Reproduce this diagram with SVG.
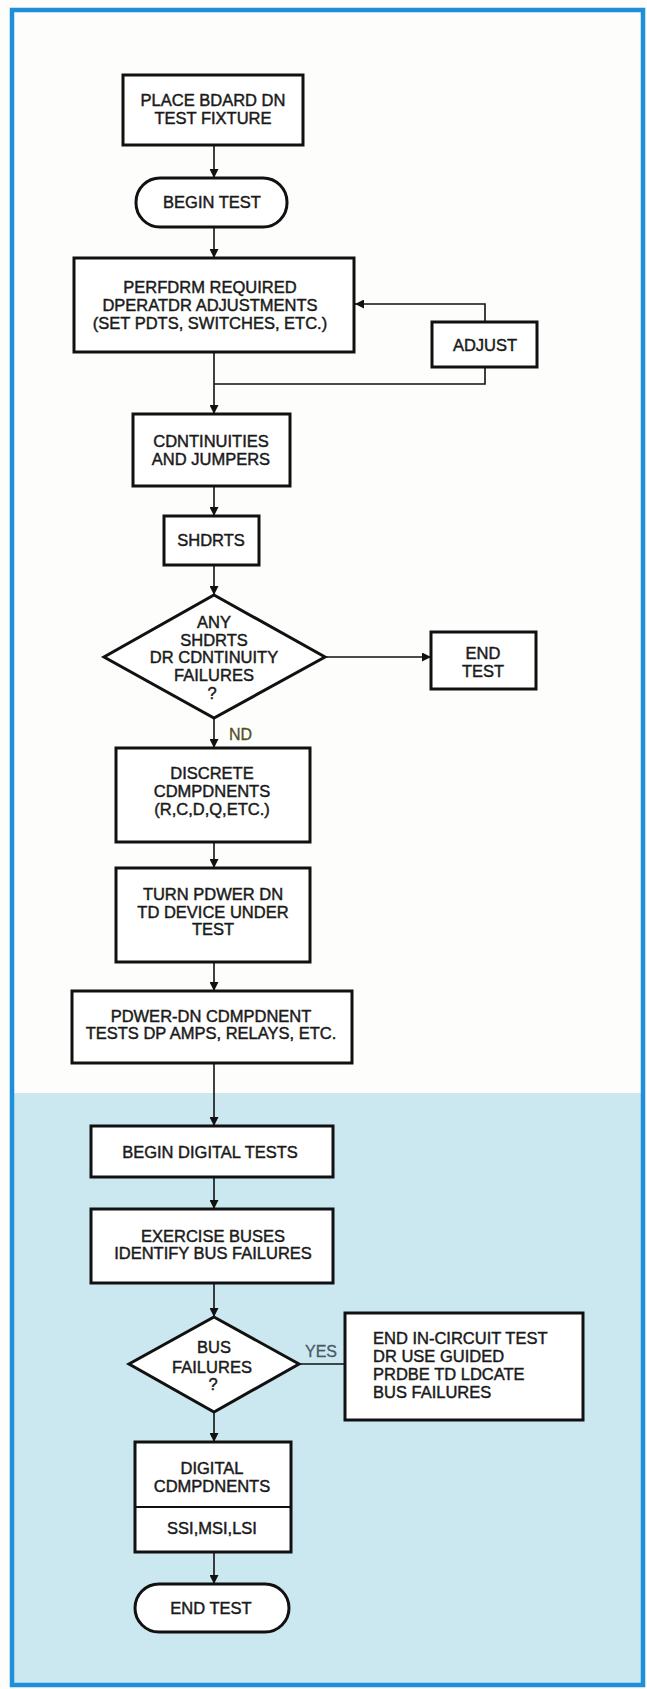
<svg xmlns="http://www.w3.org/2000/svg" width="647" height="1689" viewBox="0 0 647 1689">
<defs>
<marker id="ah" viewBox="0 0 10 10" refX="10" refY="5" markerWidth="9" markerHeight="9" markerUnits="userSpaceOnUse" orient="auto">
<path d="M0,0 L10,5 L0,10 z" fill="#111"/>
</marker>
<style>
.box{fill:#fff;stroke:#111;stroke-width:3}
.t{font-family:"Liberation Sans",Arial,sans-serif;font-size:16.5px;fill:#1a1a1a;stroke:#1a1a1a;stroke-width:0.45;text-anchor:middle}
.tl{text-anchor:start}
.c{fill:none;stroke:#111;stroke-width:1.6}
.ca{fill:none;stroke:#111;stroke-width:1.6;marker-end:url(#ah)}
.lbl{font-family:"Liberation Sans",Arial,sans-serif;font-size:16px;stroke-width:0.3}
</style>
</defs>
<rect x="0" y="0" width="647" height="1689" fill="#fdfdfb"/>
<rect x="12" y="10" width="631" height="1083" fill="#fdfdfb"/>
<rect x="12" y="1093" width="631" height="593" fill="#cbe8f0"/>
<rect x="12" y="10" width="631" height="1675" fill="none" stroke="#1d8fdb" stroke-width="4.5"/>

<g id="connectors">
<line class="ca" x1="214" y1="145" x2="214" y2="178"/>
<line class="ca" x1="214" y1="227" x2="214" y2="258"/>
<line class="ca" x1="214" y1="352" x2="214" y2="414"/>
<polyline class="ca" points="485,322 485,304 355,304"/>
<polyline class="c" points="485,367 485,384 214,384"/>
<line class="ca" x1="214" y1="486" x2="214" y2="516"/>
<line class="ca" x1="214" y1="565" x2="214" y2="595"/>
<line class="ca" x1="325" y1="657" x2="431" y2="657"/>
<line class="ca" x1="214" y1="718" x2="214" y2="748"/>
<line class="ca" x1="214" y1="842" x2="214" y2="868"/>
<line class="ca" x1="214" y1="962" x2="214" y2="991"/>
<line class="ca" x1="214" y1="1063" x2="214" y2="1126"/>
<line class="ca" x1="214" y1="1177" x2="214" y2="1209"/>
<line class="ca" x1="214" y1="1283" x2="214" y2="1317"/>
<line class="c" x1="299" y1="1364" x2="345" y2="1364"/>
<line class="ca" x1="214" y1="1412" x2="214" y2="1442"/>
<line class="ca" x1="214" y1="1552" x2="214" y2="1584"/>
<text class="lbl" x="229" y="740" fill="#4f4f22" stroke="#4f4f22">ND</text>
<text class="lbl" x="305" y="1357" fill="#4a5866" stroke="#4a5866">YES</text>
</g>

<g id="place-board">
<rect class="box" x="123" y="75" width="180" height="70"/>
<text class="t" x="213" y="106">PLACE BDARD DN</text>
<text class="t" x="213" y="124">TEST FIXTURE</text>
</g>
<g id="begin-test">
<rect class="box" x="136" y="178" width="151" height="49" rx="24" ry="24"/>
<text class="t" x="212" y="208">BEGIN TEST</text>
</g>
<g id="perform">
<rect class="box" x="74" y="258" width="280" height="94"/>
<text class="t" x="210" y="293">PERFDRM REQUIRED</text>
<text class="t" x="210" y="311">DPERATDR ADJUSTMENTS</text>
<text class="t" x="210" y="329">(SET PDTS, SWITCHES, ETC.)</text>
</g>
<g id="adjust">
<rect class="box" x="432" y="322" width="105" height="45"/>
<text class="t" x="485" y="351">ADJUST</text>
</g>
<g id="continuities">
<rect class="box" x="133" y="414" width="157" height="72"/>
<text class="t" x="211" y="447">CDNTINUITIES</text>
<text class="t" x="211" y="465">AND JUMPERS</text>
</g>
<g id="shorts">
<rect class="box" x="164" y="516" width="95" height="49"/>
<text class="t" x="211" y="546">SHDRTS</text>
</g>
<g id="shorts-decision">
<polygon class="box" points="214,595 325,657 214,718 104,657"/>
<text class="t" x="214" y="628">ANY</text>
<text class="t" x="214" y="646">SHDRTS</text>
<text class="t" x="214" y="663">DR CDNTINUITY</text>
<text class="t" x="214" y="681">FAILURES</text>
<text class="t" x="212" y="699">?</text>
</g>
<g id="end-test-1">
<rect class="box" x="431" y="632" width="105" height="57"/>
<text class="t" x="483" y="659">END</text>
<text class="t" x="483" y="677">TEST</text>
</g>
<g id="discrete">
<rect class="box" x="116" y="748" width="194" height="94"/>
<text class="t" x="212" y="779">DISCRETE</text>
<text class="t" x="212" y="797">CDMPDNENTS</text>
<text class="t" x="212" y="815">(R,C,D,Q,ETC.)</text>
</g>
<g id="turn-power">
<rect class="box" x="116" y="868" width="194" height="94"/>
<text class="t" x="213" y="900">TURN PDWER DN</text>
<text class="t" x="213" y="918">TD DEVICE UNDER</text>
<text class="t" x="213" y="935">TEST</text>
</g>
<g id="power-on">
<rect class="box" x="72" y="991" width="280" height="72"/>
<text class="t" x="211" y="1022">PDWER-DN CDMPDNENT</text>
<text class="t" x="211" y="1039">TESTS DP AMPS, RELAYS, ETC.</text>
</g>
<g id="begin-digital">
<rect class="box" x="91" y="1126" width="242" height="51"/>
<text class="t" x="210" y="1158">BEGIN DIGITAL TESTS</text>
</g>
<g id="exercise">
<rect class="box" x="91" y="1209" width="242" height="74"/>
<text class="t" x="213" y="1242">EXERCISE BUSES</text>
<text class="t" x="213" y="1259">IDENTIFY BUS FAILURES</text>
</g>
<g id="bus-decision">
<polygon class="box" points="214,1317 299,1364 214,1412 129,1364"/>
<text class="t" x="214" y="1353">BUS</text>
<text class="t" x="212" y="1373">FAILURES</text>
<text class="t" x="213" y="1390">?</text>
</g>
<g id="end-in-circuit">
<rect class="box" x="345" y="1313" width="238" height="107"/>
<text class="t tl" x="373" y="1344">END IN-CIRCUIT TEST</text>
<text class="t tl" x="373" y="1362">DR USE GUIDED</text>
<text class="t tl" x="373" y="1380">PRDBE TD LDCATE</text>
<text class="t tl" x="373" y="1398">BUS FAILURES</text>
</g>
<g id="digital-components">
<rect class="box" x="135" y="1442" width="156" height="110"/>
<line x1="135" y1="1507" x2="291" y2="1507" stroke="#111" stroke-width="2"/>
<text class="t" x="212" y="1474">DIGITAL</text>
<text class="t" x="212" y="1492">CDMPDNENTS</text>
<text class="t" x="212" y="1534">SSI,MSI,LSI</text>
</g>
<g id="end-test-2">
<rect class="box" x="135" y="1584" width="154" height="48" rx="24" ry="24"/>
<text class="t" x="211" y="1614">END TEST</text>
</g>
</svg>
